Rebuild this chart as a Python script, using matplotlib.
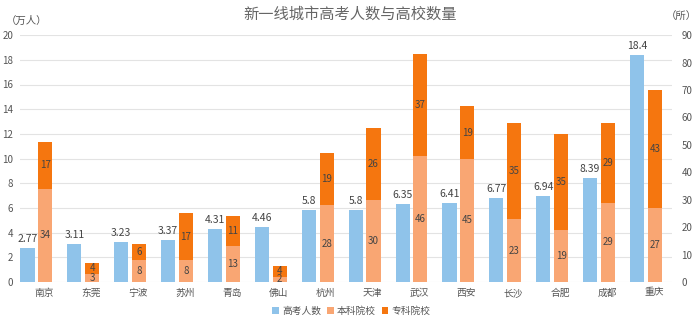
import matplotlib
matplotlib.use("Agg")
import matplotlib.pyplot as plt
import numpy as np

plt.rcParams["font.family"] = ["Noto Sans CJK SC", "DejaVu Sans"]

# ── Data ──────────────────────────────────────────────────────────────────────
cities = ["南京", "东莞", "宁波", "苏州", "青岛", "佛山", "杭州",
          "天津", "武汉", "西安", "长沙", "合肥", "成都", "重庆"]
gaokao = [2.77, 3.11, 3.23, 3.37, 4.31, 4.46, 5.8,
          5.8, 6.35, 6.41, 6.77, 6.94, 8.39, 18.4]
benke = [34, 3, 8, 8, 13, 2, 28, 30, 46, 45, 23, 19, 29, 27]
zhuanke = [17, 4, 6, 17, 11, 4, 19, 26, 37, 19, 35, 35, 29, 43]

BLUE = "#8fc3ea"
LIGHT = "#f9a673"
DARK = "#f5760f"
TXT = "#555555"

x = np.arange(len(cities))
w = 0.3

fig = plt.figure(figsize=(7, 3.25), dpi=100)
ax = fig.add_axes([0.0286, 0.132, 0.931, 0.76])
ax2 = ax.twinx()

# left axis: 高考人数
bars = ax.bar(x - 0.19, gaokao, w, color=BLUE, zorder=2)
for b, v in zip(bars, gaokao):
    ax.annotate(f"{v:g}", (b.get_x() + b.get_width() / 2, v),
                xytext=(0, 3), textcoords="offset points",
                ha="center", va="bottom", fontsize=7.5, color="#444444")

# right axis: stacked 本科 / 专科
b1 = ax2.bar(x + 0.19, benke, w, color=LIGHT, zorder=2)
b2 = ax2.bar(x + 0.19, zhuanke, w, bottom=benke, color=DARK, zorder=2)
for xi, lo, hi in zip(x, benke, zhuanke):
    ax2.text(xi + 0.19, lo / 2, str(lo), ha="center", va="center",
             fontsize=7, color="#444444")
    ax2.text(xi + 0.19, lo + hi / 2, str(hi), ha="center", va="center",
             fontsize=7, color="#444444")

ax.set_ylim(0, 20)
ax.set_yticks(range(0, 21, 2))
ax2.set_ylim(0, 90)
ax2.set_yticks(range(0, 91, 10))
ax.set_xlim(-0.35, 13.55)
ax.set_xticks(x + 0.17)
ax.set_xticklabels(cities, fontsize=7.5, color=TXT)

ax.grid(axis="y", color="#e3e3e3", linewidth=0.8, zorder=0)
for a in (ax, ax2):
    for s in a.spines.values():
        s.set_visible(False)
    a.tick_params(length=0, labelsize=7, labelcolor=TXT)
ax.tick_params(axis="y", pad=5)
ax.tick_params(axis="x", pad=4)
ax2.tick_params(axis="y", pad=7)

fig.text(0.5, 0.955, "新一线城市高考人数与高校数量", ha="center", va="center",
         fontsize=11, color="#666666")
fig.text(0.038, 0.935, "（万人）", ha="center", va="center",
         fontsize=7.5, color=TXT)
fig.text(0.973, 0.95, "（所）", ha="center", va="center",
         fontsize=7.5, color=TXT)

handles = [bars[0], b1[0], b2[0]]
fig.legend(handles, ["高考人数", "本科院校", "专科院校"],
           loc="center", bbox_to_anchor=(0.502, 0.043), ncol=3, frameon=False,
           fontsize=7, handlelength=0.7, handleheight=0.7, handletextpad=0.3,
           columnspacing=0.6, labelcolor=TXT)

fig.savefig("out.png", dpi=100)
